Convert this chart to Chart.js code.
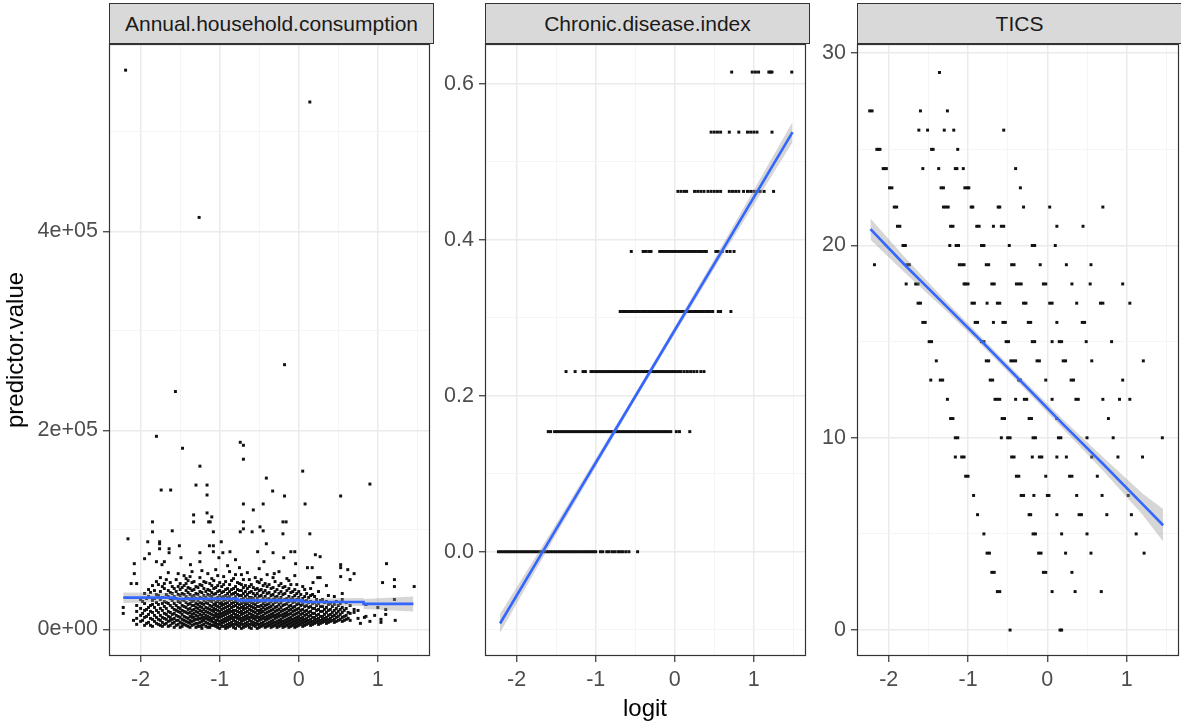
<!DOCTYPE html>
<html>
<head>
<meta charset="utf-8">
<script src="https://cdn.jsdelivr.net/npm/chart.js@4.4.1/dist/chart.umd.min.js"></script>
<style>
  html, body { margin: 0; padding: 0; background: #fff; overflow: hidden; }
  body { width: 1181px; height: 723px; position: relative; font-family: 'Liberation Sans', Arial, sans-serif; }
  canvas { position: absolute; }
  .strip {
    position: absolute; top: 3px; height: 41px; width: 325px;
    box-sizing: border-box; border: 1px solid #333; background: #d9d9d9;
    color: #1a1a1a; font-size: 21px; text-align: center; line-height: 39px;
    white-space: nowrap; overflow: hidden;
  }
  .ytitle {
    position: absolute; left: 15px; top: 350px; white-space: nowrap;
    transform: translate(-50%, -50%) rotate(-90deg); font-size: 24px; color: #000;
  }
  .xtitle {
    position: absolute; left: 645px; top: 708px;
    transform: translate(-50%, -50%); font-size: 24px; color: #000;
  }
</style>
</head>
<body>
<div class="strip" style="left:109px">Annual.household.consumption</div>
<div class="strip" style="left:485px">Chronic.disease.index</div>
<div class="strip" style="left:857px">TICS</div>
<canvas id="consumption" width="414" height="676" style="left:20px;top:24px"></canvas>
<canvas id="chronic" width="370" height="676" style="left:440px;top:24px"></canvas>
<canvas id="tics" width="371" height="676" style="left:812px;top:24px"></canvas>
<div class="ytitle">predictor.value</div>
<div class="xtitle">logit</div>

<script>
// shared x axis (logit)
const logitTicks = [-2, -1.5, -1, -0.5, 0, 0.5, 1, 1.5];
const logitLabels = ['-2', '', '-1', '', '0', '', '1', ''];

// Annual.household.consumption, values in thousands
const consumptionTicks = [0, 100000, 200000, 300000, 400000, 500000];
const consumptionLabels = ['0e+00', '', '2e+05', '', '4e+05', ''];
const consumptionOutliersK = [
    [-2.19, 562], [0.14, 530], [-1.26, 414], [-0.18, 266], [-1.56, 239], [-1.80, 194],
    [-0.74, 188], [-0.70, 185], [-1.47, 182], [-0.70, 171], [-1.25, 164], [0.05, 159],
    [-0.41, 152], [0.90, 146], [-1.30, 145], [-1.74, 140], [-1.62, 140], [-1.16, 145],
    [-0.33, 139], [-1.16, 135], [-0.18, 134], [0.53, 134], [-0.45, 126], [0.08, 126],
    [-0.70, 126], [-0.575, 120], [-1.33, 115], [-1.16, 117], [-1.33, 108], [-1.14, 108],
    [-1.12, 108], [-1.10, 113], [-1.85, 108], [-0.70, 108], [-0.20, 108], [-0.16, 108],
    [-0.49, 103], [-0.70, 101], [-0.45, 99], [-1.60, 99], [-1.08, 98], [-1.85, 98],
    [-0.74, 98], [-0.59, 98], [-0.20, 96], [0.14, 96], [-2.16, 91], [-1.91, 88],
    [-1.76, 88], [-1.76, 86], [-0.98, 88], [-1.13, 84], [-1.08, 84], [-1.51, 84],
    [-0.41, 86], [-1.76, 81], [-1.64, 81], [-1.64, 77], [-1.08, 78], [-0.87, 78],
    [-0.52, 78], [-0.10, 78], [-0.05, 78], [-1.25, 77], [-0.96, 77], [-0.325, 77],
    [-1.89, 76], [0.21, 75], [0.27, 73], [-1.49, 72], [-1.01, 72], [-0.19, 72],
    [-1.95, 71], [-0.80, 70], [-1.80, 68], [-1.70, 68], [-1.25, 68], [-0.44, 68],
    [-2.08, 66], [-0.04, 66], [1.11, 66], [-1.73, 65], [-1.37, 65], [0.53, 65],
    [0.11, 62], [0.17, 62], [0.53, 62], [0.62, 60], [-2.08, 56], [-0.31, 56],
    [0.70, 56], [0.53, 53], [0.24, 52], [0.27, 52], [-2.12, 46], [-2.05, 46],
    [0.18, 47], [1.06, 47], [0.65, 50], [1.21, 50], [1.21, 43], [1.46, 43],
    [1.21, 30], [1.00, 22], [1.04, 10], [1.04, 7], [1.22, 9], [0.96, 14],
    [0.83, 12], [0.78, 6], [0.70, 20], [0.70, 17], [-2.22, 22], [-2.22, 16], [-2.09, 9]
];
// the dense low band, one column of values per logit position
const consumptionCloudK = [
    [-2.05, [5, 11, 18, 24]],
    [-2.00, [8, 14, 21, 30]],
    [-1.95, [4, 12, 19, 26, 36]],
    [-1.90, [7, 15, 22, 33, 40]],
    [-1.85, [3, 10, 17, 25, 29, 44]],
    [-1.80, [6, 12, 19, 27, 35, 48]],
    [-1.75, [4, 9, 14, 21, 30, 38, 52]],
    [-1.70, [5, 11, 16, 23, 28, 41, 46]],
    [-1.65, [3, 8, 13, 18, 26, 33, 39, 57]],
    [-1.60, [6, 10, 15, 22, 29, 36, 43]],
    [-1.55, [4, 9, 14, 19, 24, 31, 38, 50]],
    [-1.50, [2, 7, 12, 17, 21, 27, 34, 40, 46]],
    [-1.45, [5, 9, 13, 18, 23, 29, 35, 44, 54]],
    [-1.40, [3, 7, 11, 16, 20, 25, 31, 37, 42, 49]],
    [-1.35, [4, 8, 12, 15, 19, 24, 28, 33, 39, 47, 58]],
    [-1.30, [2, 6, 10, 14, 18, 22, 26, 31, 36, 43]],
    [-1.25, [3, 7, 11, 15, 19, 23, 27, 32, 38, 45, 52]],
    [-1.20, [5, 9, 12, 16, 20, 25, 29, 34, 41, 48]],
    [-1.15, [2, 6, 10, 13, 17, 21, 26, 30, 35, 40, 56]],
    [-1.10, [4, 8, 11, 15, 19, 23, 28, 33, 37, 44, 51]],
    [-1.05, [3, 6, 9, 13, 16, 20, 24, 27, 31, 36, 42, 60]],
    [-1.00, [1, 5, 8, 12, 15, 18, 22, 26, 30, 34, 39, 47]],
    [-0.95, [3, 7, 10, 14, 17, 21, 25, 29, 33, 38, 45, 53]],
    [-0.90, [2, 5, 9, 12, 16, 19, 23, 27, 32, 36, 41, 64]],
    [-0.85, [4, 7, 11, 14, 18, 22, 26, 30, 35, 40, 49]],
    [-0.80, [1, 5, 8, 12, 15, 19, 24, 28, 33, 37, 43, 55]],
    [-0.75, [3, 6, 10, 13, 17, 21, 25, 29, 34, 39, 46, 62]],
    [-0.70, [2, 5, 9, 12, 16, 20, 23, 27, 31, 36, 42, 50]],
    [-0.65, [4, 7, 11, 14, 18, 22, 26, 30, 35, 41, 57]],
    [-0.60, [1, 5, 8, 12, 15, 19, 23, 27, 32, 38, 45]],
    [-0.55, [3, 6, 10, 13, 17, 21, 25, 29, 34, 40, 52]],
    [-0.50, [2, 5, 9, 12, 16, 19, 23, 28, 33, 39, 47, 61]],
    [-0.45, [4, 7, 11, 14, 18, 22, 26, 31, 37, 44]],
    [-0.40, [3, 6, 10, 13, 17, 21, 25, 30, 36, 43, 55]],
    [-0.35, [2, 5, 8, 12, 15, 19, 23, 28, 34, 41]],
    [-0.30, [4, 7, 11, 14, 18, 22, 27, 32, 38, 48]],
    [-0.25, [3, 6, 9, 13, 16, 20, 25, 30, 36, 44, 58]],
    [-0.20, [2, 5, 8, 12, 15, 19, 24, 29, 35, 42]],
    [-0.15, [4, 7, 10, 14, 17, 21, 26, 31, 39, 51]],
    [-0.10, [3, 6, 9, 12, 16, 20, 24, 30, 37, 45]],
    [-0.05, [2, 5, 8, 11, 15, 19, 23, 28, 34, 40, 54]],
    [0.00, [4, 7, 10, 13, 17, 21, 26, 32, 38]],
    [0.05, [3, 6, 9, 12, 16, 20, 25, 31, 43]],
    [0.10, [5, 8, 11, 15, 19, 24, 29, 36]],
    [0.15, [4, 7, 10, 14, 18, 23, 28, 34, 41]],
    [0.20, [6, 9, 12, 16, 21, 27, 33]],
    [0.25, [5, 8, 11, 15, 20, 26, 38]],
    [0.30, [7, 10, 13, 18, 23, 30]],
    [0.35, [6, 9, 12, 17, 22, 28, 44]],
    [0.40, [8, 11, 15, 20, 26]],
    [0.45, [7, 10, 14, 19, 25, 33]],
    [0.50, [9, 13, 18, 24]],
    [0.55, [8, 12, 17, 22, 30, 36]],
    [0.60, [10, 14, 21, 27]],
    [0.65, [9, 16, 24]],
    [0.75, [11, 19]],
    [0.85, [13, 25]],
    [0.90, [8]],
    [1.10, [15, 20]],
    [-1.975, [9, 16, 28]],
    [-1.925, [6, 13, 20, 31]],
    [-1.875, [4, 11, 18, 24, 37]],
    [-1.825, [8, 14, 22, 31, 39]],
    [-1.775, [5, 10, 17, 25, 34, 45]],
    [-1.725, [3, 7, 12, 19, 26, 32, 43]],
    [-1.675, [6, 10, 15, 21, 27, 35, 50]],
    [-1.625, [4, 9, 12, 17, 24, 31, 37, 47]],
    [-1.575, [2, 7, 11, 16, 20, 26, 33, 41]],
    [-1.525, [5, 9, 13, 18, 22, 28, 35, 43, 56]],
    [-1.475, [3, 6, 10, 15, 19, 24, 30, 36, 42]],
    [-1.425, [4, 8, 12, 17, 22, 27, 33, 39, 46, 51]],
    [-1.375, [2, 6, 9, 13, 17, 21, 26, 30, 35, 41, 53]],
    [-1.325, [5, 9, 12, 16, 20, 24, 29, 34, 40, 48]],
    [-1.275, [3, 6, 10, 13, 17, 21, 25, 29, 35, 42]],
    [-1.225, [1, 4, 8, 11, 14, 18, 22, 26, 31, 37, 44, 59]],
    [-1.175, [3, 7, 11, 14, 18, 22, 27, 32, 38, 47]],
    [-1.125, [2, 5, 9, 12, 16, 20, 24, 29, 34, 39, 46]],
    [-1.075, [4, 7, 11, 14, 18, 21, 25, 30, 35, 41, 49]],
    [-1.025, [2, 5, 9, 12, 15, 19, 23, 28, 32, 38, 44, 54]],
    [-0.975, [3, 6, 9, 13, 16, 20, 24, 27, 32, 37, 43]],
    [-0.925, [1, 4, 8, 11, 15, 18, 22, 26, 30, 34, 40, 48]],
    [-0.875, [3, 6, 10, 13, 17, 20, 24, 29, 33, 38, 45, 58]],
    [-0.825, [2, 5, 9, 12, 16, 19, 23, 27, 31, 36, 41, 51]],
    [-0.775, [4, 7, 11, 14, 18, 22, 26, 30, 35, 40, 47]],
    [-0.725, [1, 5, 8, 11, 15, 18, 22, 26, 30, 34, 39, 45, 55]],
    [-0.675, [3, 6, 10, 13, 17, 21, 25, 28, 33, 38, 44]],
    [-0.625, [2, 5, 9, 12, 16, 20, 24, 28, 32, 37, 43, 50]],
    [-0.575, [4, 7, 11, 14, 18, 22, 26, 31, 36, 42]],
    [-0.525, [1, 5, 8, 12, 15, 19, 23, 27, 31, 36, 41, 48]],
    [-0.475, [3, 6, 10, 13, 17, 20, 24, 29, 34, 40, 50]],
    [-0.425, [2, 5, 9, 12, 16, 20, 24, 28, 33, 39, 46]],
    [-0.375, [4, 7, 11, 14, 18, 22, 26, 31, 37, 45]],
    [-0.325, [3, 6, 9, 13, 16, 20, 25, 30, 35, 42, 52]],
    [-0.275, [2, 5, 8, 12, 15, 19, 23, 28, 33, 40]],
    [-0.225, [4, 7, 10, 14, 18, 22, 27, 32, 38, 46]],
    [-0.175, [3, 6, 9, 13, 16, 20, 25, 30, 36, 43]],
    [-0.125, [2, 5, 8, 11, 15, 19, 23, 28, 33, 41, 49]],
    [-0.075, [4, 7, 10, 14, 18, 22, 27, 32, 38]],
    [-0.025, [3, 6, 9, 12, 16, 20, 25, 30, 36, 45]],
    [0.025, [5, 8, 11, 15, 19, 24, 29, 35]],
    [0.075, [4, 7, 10, 14, 18, 23, 28, 33, 40]],
    [0.125, [6, 9, 13, 17, 22, 27, 32]],
    [0.175, [5, 8, 12, 16, 21, 26, 35]],
    [0.225, [7, 10, 14, 19, 24, 30]],
    [0.275, [6, 9, 13, 18, 23, 29]],
    [0.325, [8, 11, 15, 20, 27]],
    [0.375, [7, 10, 14, 19, 25, 34]],
    [0.425, [9, 13, 17, 23]],
    [0.475, [8, 12, 16, 21, 28]],
    [0.525, [10, 15, 20, 26]],
    [0.575, [9, 13, 19]],
    [0.625, [11, 17]]
];
const consumptionFitX = [-2.22, -1.58, -1.58, -0.77, -0.77, 0.04, 0.04, 0.82, 0.82, 1.45];
const consumptionFitK = [31.9, 31.9, 30.8, 30.8, 29.1, 29.1, 27.5, 27.5, 25.6, 25.6];
const consumptionLowK = [26.5, 27.5, 27, 27.5, 26, 26, 24, 23.5, 20.5, 18];
const consumptionHighK = [37, 36.5, 35, 34.5, 32.5, 32.5, 31, 31.5, 30.5, 33];

// Chronic.disease.index: one row of logit values per index level
const chronicTicks = [-0.1, 0, 0.1, 0.2, 0.3, 0.4, 0.5, 0.6];
const chronicLabels = ['', '0.0', '', '0.2', '', '0.4', '', '0.6'];
const chronicRows = [
    [0, [-2.23, -2.20, -2.17, -2.14, -2.11, -2.08, -2.05, -2.02, -1.99, -1.96, -1.93, -1.90, -1.87,
         -1.84, -1.81, -1.78, -1.75, -1.72, -1.69, -1.66, -1.63, -1.60, -1.57, -1.54, -1.51, -1.48,
         -1.45, -1.42, -1.39, -1.36, -1.33, -1.30, -1.27, -1.24, -1.21, -1.18, -1.15, -1.12, -1.09,
         -1.06, -1.03, -1.00, -0.94, -0.91, -0.86, -0.83, -0.79, -0.76, -0.72, -0.69, -0.66, -0.62,
         -0.58, -0.47]],
    [0.154, [-1.60, -1.57, -1.52, -1.49, -1.46, -1.43, -1.40, -1.37, -1.34, -1.31, -1.28, -1.25,
         -1.22, -1.19, -1.16, -1.13, -1.10, -1.07, -1.04, -1.01, -0.98, -0.95, -0.92, -0.89, -0.86,
         -0.83, -0.80, -0.77, -0.74, -0.71, -0.68, -0.65, -0.62, -0.59, -0.56, -0.53, -0.50, -0.47,
         -0.44, -0.41, -0.38, -0.35, -0.32, -0.29, -0.26, -0.23, -0.20, -0.17, -0.14, -0.11, -0.08,
         -0.05, 0.02, 0.06, 0.19]],
    [0.231, [-1.375, -1.26, -1.16, -1.13, -1.06, -1.03, -1.00, -0.97, -0.94, -0.91, -0.88, -0.85,
         -0.82, -0.79, -0.76, -0.73, -0.70, -0.67, -0.64, -0.61, -0.58, -0.55, -0.52, -0.49, -0.46,
         -0.43, -0.40, -0.37, -0.34, -0.31, -0.28, -0.25, -0.22, -0.19, -0.16, -0.13, -0.10, -0.07,
         -0.04, -0.01, 0.02, 0.05, 0.08, 0.12, 0.16, 0.20, 0.24, 0.28, 0.33, 0.37]],
    [0.308, [-0.69, -0.66, -0.63, -0.60, -0.57, -0.54, -0.51, -0.48, -0.45, -0.42, -0.39, -0.36,
         -0.33, -0.30, -0.27, -0.24, -0.21, -0.18, -0.15, -0.12, -0.09, -0.06, -0.03, 0.00, 0.03,
         0.06, 0.09, 0.12, 0.15, 0.18, 0.21, 0.24, 0.27, 0.30, 0.33, 0.36, 0.39, 0.42, 0.45, 0.48,
         0.55, 0.58, 0.71]],
    [0.385, [-0.55, -0.40, -0.37, -0.33, -0.30, -0.19, -0.16, -0.13, -0.10, -0.07, -0.04, -0.01,
         0.02, 0.05, 0.08, 0.11, 0.14, 0.17, 0.20, 0.23, 0.26, 0.29, 0.32, 0.35, 0.38, 0.40, 0.52,
         0.55, 0.60, 0.66, 0.70, 0.75]],
    [0.462, [0.04, 0.08, 0.12, 0.15, 0.25, 0.29, 0.33, 0.37, 0.42, 0.46, 0.50, 0.54, 0.58, 0.69,
         0.73, 0.77, 0.81, 0.87, 0.92, 0.96, 1.00, 1.04, 1.08, 1.13, 1.25]],
    [0.538, [0.46, 0.50, 0.54, 0.58, 0.69, 0.81, 0.92, 0.96, 1.00, 1.04, 1.23]],
    [0.615, [0.72, 0.98, 1.02, 1.06, 1.19, 1.21, 1.23, 1.48]]
];
const chronicFitX = [-2.21, -1.5, -0.5, 0.5, 1.49];
const chronicFit = [-0.092, 0.029, 0.199, 0.369, 0.538];
const chronicLow = [-0.104, 0.022, 0.195, 0.363, 0.525];
const chronicHigh = [-0.080, 0.036, 0.203, 0.375, 0.551];

// TICS: one row of logit values per score
const ticsTicks = [0, 5, 10, 15, 20, 25, 30];
const ticsLabels = ['0', '', '10', '', '20', '', '30'];
const ticsRows = [
    [29, [-1.36]],
    [27, [-2.24, -2.21, -1.60, -1.26]],
    [26, [-1.62, -1.51, -1.30, -1.18, -0.55]],
    [25, [-2.15, -2.13, -2.11, -1.46, -1.44, -1.13]],
    [24, [-2.07, -2.05, -2.03, -1.57, -1.37, -1.16, -1.14, -1.06, -0.40]],
    [23, [-1.99, -1.96, -1.34, -1.31, -1.04, -1.01, -0.99, -0.34]],
    [22, [-1.93, -1.90, -1.31, -1.28, -1.25, -0.96, -0.94, -0.62, -0.60, -0.30, 0.03, 0.70]],
    [21, [-1.89, -1.86, -1.22, -1.19, -0.89, -0.86, -0.68, -0.58, -0.55, 0.12, 0.45]],
    [20, [-1.82, -1.79, -1.23, -1.15, -1.12, -0.83, -0.80, -0.48, -0.19, -0.16, 0.10]],
    [19, [-2.18, -1.77, -1.74, -1.11, -1.08, -1.05, -0.77, -0.74, -0.45, -0.42, -0.09, 0.24, 0.55]],
    [18, [-1.78, -1.66, -1.63, -1.05, -1.03, -1.00, -0.70, -0.67, -0.39, -0.36, -0.33, -0.05, -0.02, 0.31, 0.54, 0.95]],
    [17, [-1.63, -1.60, -0.95, -0.92, -0.76, -0.63, -0.60, -0.30, -0.27, 0.03, 0.06, 0.37, 0.67, 0.70, 1.04]],
    [16, [-1.57, -1.54, -0.91, -0.88, -0.68, -0.56, -0.53, -0.24, -0.21, 0.12, 0.44, 0.47]],
    [15, [-1.49, -1.46, -0.83, -0.80, -0.52, -0.49, -0.19, -0.16, 0.06, 0.15, 0.18, 0.49, 0.81]],
    [14, [-1.40, -0.77, -0.74, -0.46, -0.43, -0.40, -0.13, -0.10, 0.20, 0.23, 0.56, 1.21]],
    [13, [-1.47, -1.35, -1.32, -0.72, -0.69, -0.36, -0.34, -0.02, 0.30, 0.33, 0.95]],
    [12, [-1.26, -0.66, -0.63, -0.60, -0.40, -0.29, -0.26, 0.06, 0.36, 0.39, 0.70, 0.91, 1.04]],
    [11, [-1.22, -1.19, -0.57, -0.54, -0.23, -0.20, 0.12, 0.77]],
    [10, [-1.16, -1.13, -0.58, -0.50, -0.47, -0.18, -0.15, 0.14, 0.17, 0.50, 0.83, 1.45]],
    [9, [-1.16, -1.08, -1.05, -0.45, -0.42, -0.19, -0.10, -0.07, 0.12, 0.24, 0.56, 0.89, 1.20]],
    [8, [-1.03, -1.00, -0.39, -0.36, -0.02, 0.28, 0.31, 0.63]],
    [7, [-0.93, -0.33, -0.30, -0.17, 0.00, 0.02, 0.37, 0.69, 1.02]],
    [6, [-0.88, -0.23, -0.21, 0.12, 0.40, 0.43, 0.75, 1.06]],
    [5, [-0.80, -0.18, -0.15, 0.18, 0.50, 1.12]],
    [4, [-0.76, -0.73, -0.11, -0.08, 0.23, 0.55, 1.22]],
    [3, [-0.70, -0.67, -0.05, -0.02, 0.31]],
    [2, [-0.63, -0.60, 0.06, 0.35, 0.68]],
    [0, [-0.47, 0.16, 0.18]]
];
const ticsFitX = [-2.23, -1.8, -1.3, -0.8, -0.3, 0.2, 0.7, 1.2, 1.46];
const ticsFit = [20.85, 19.0, 16.95, 14.9, 12.8, 10.7, 8.65, 6.55, 5.45];
const ticsLow = [20.3, 18.6, 16.7, 14.7, 12.6, 10.45, 8.3, 6.0, 4.6];
const ticsHigh = [21.4, 19.4, 17.2, 15.1, 13.0, 10.95, 9.0, 7.1, 6.3];

const FONT = "'Liberation Sans', Arial, sans-serif";

function pairs(xs, ys, k) {
    return xs.map((x, i) => ({ x: x, y: ys[i] * (k || 1) }));
}

function rowsToPoints(rows) {
    const pts = [];
    rows.forEach(([y, xs]) => xs.forEach(x => pts.push({ x: x, y: y })));
    return pts;
}

// ggplot-like panel frame drawn over the data
const panelBorder = {
    id: 'panelBorder',
    afterDatasetsDraw(chart) {
        const a = chart.chartArea;
        const ctx = chart.ctx;
        ctx.save();
        ctx.strokeStyle = '#333333';
        ctx.lineWidth = 1.2;
        ctx.strokeRect(a.left + 0.5, a.top + 0.5, a.right - a.left - 1, a.bottom - a.top - 1);
        ctx.restore();
    }
};

function axis(ticks, labels, min, max, size) {
    const major = c => labels[c.index] !== '';
    return {
        type: 'linear',
        min: min,
        max: max,
        afterBuildTicks: s => { s.ticks = ticks.map(v => ({ value: v })); },
        afterFit: s => { if (s.isHorizontal()) s.height = size; else s.width = size; },
        ticks: {
            autoSkip: false,
            maxRotation: 0,
            padding: 5,
            color: '#4d4d4d',
            font: { family: FONT, size: 21.5 },
            callback: (v, i) => labels[i]
        },
        grid: {
            color: c => major(c) ? '#ebebeb' : '#f3f3f3',
            lineWidth: c => major(c) ? 1.5 : 0.8,
            tickColor: c => major(c) ? '#333333' : 'rgba(0,0,0,0)',
            tickLength: 6,
            tickWidth: 1.2
        },
        border: { display: false }
    };
}

function drawPanel(id, cfg) {
    const ctx = document.getElementById(id).getContext('2d');
    return new Chart(ctx, {
        type: 'scatter',
        data: {
            datasets: [
                {
                    data: cfg.points,
                    pointStyle: 'rect',
                    pointRadius: 2.1,
                    backgroundColor: '#111111',
                    borderWidth: 0,
                    order: 3
                },
                {
                    data: cfg.low,
                    showLine: true,
                    pointRadius: 0,
                    borderWidth: 0,
                    borderColor: 'rgba(0,0,0,0)',
                    fill: false,
                    order: 2
                },
                {
                    data: cfg.high,
                    showLine: true,
                    pointRadius: 0,
                    borderWidth: 0,
                    borderColor: 'rgba(0,0,0,0)',
                    backgroundColor: 'rgba(153,153,153,0.4)',
                    fill: '-1',
                    order: 2
                },
                {
                    data: cfg.fit,
                    showLine: true,
                    pointRadius: 0,
                    borderColor: '#3366ff',
                    borderWidth: 2.6,
                    order: 1
                }
            ]
        },
        options: {
            responsive: false,
            animation: false,
            layout: { padding: { top: 20, right: 0, bottom: 0, left: 0 } },
            plugins: { legend: { display: false }, tooltip: { enabled: false } },
            scales: {
                x: axis(logitTicks, logitLabels, -2.4, 1.66, 44),
                y: axis(cfg.yTicks, cfg.yLabels, cfg.yMin, cfg.yMax, cfg.yWidth)
            }
        },
        plugins: [panelBorder]
    });
}

const consumptionPoints = consumptionOutliersK.map(([x, y]) => ({ x: x, y: y * 1000 }));
consumptionCloudK.forEach(([x, ys]) => ys.forEach(y => consumptionPoints.push({ x: x, y: y * 1000 })));

drawPanel('consumption', {
    points: consumptionPoints,
    fit: pairs(consumptionFitX, consumptionFitK, 1000),
    low: pairs(consumptionFitX, consumptionLowK, 1000),
    high: pairs(consumptionFitX, consumptionHighK, 1000),
    yTicks: consumptionTicks, yLabels: consumptionLabels,
    yMin: -26800, yMax: 588300, yWidth: 89
});

drawPanel('chronic', {
    points: rowsToPoints(chronicRows),
    fit: pairs(chronicFitX, chronicFit),
    low: pairs(chronicFitX, chronicLow),
    high: pairs(chronicFitX, chronicHigh),
    yTicks: chronicTicks, yLabels: chronicLabels,
    yMin: -0.1337, yMax: 0.651, yWidth: 45
});

drawPanel('tics', {
    points: rowsToPoints(ticsRows),
    fit: pairs(ticsFitX, ticsFit),
    low: pairs(ticsFitX, ticsLow),
    high: pairs(ticsFitX, ticsHigh),
    yTicks: ticsTicks, yLabels: ticsLabels,
    yMin: -1.35, yMax: 30.48, yWidth: 45
});
</script>
</body>
</html>
